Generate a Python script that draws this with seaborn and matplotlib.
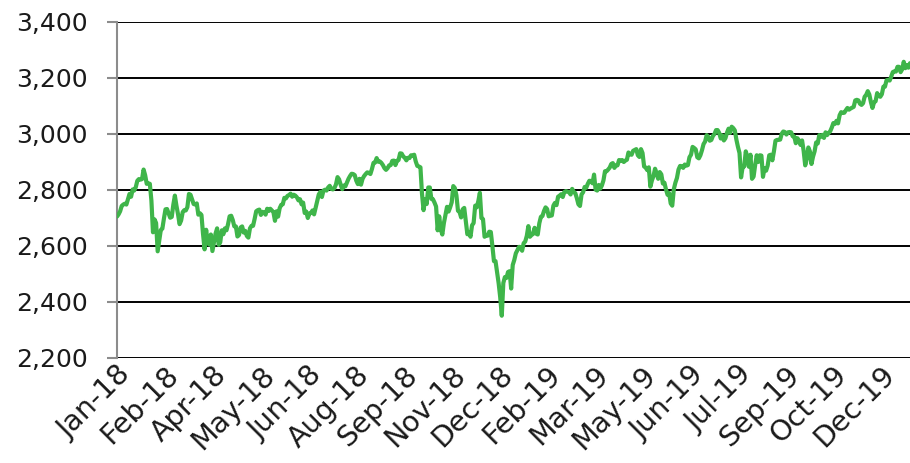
import matplotlib
matplotlib.use("Agg")
import matplotlib.pyplot as plt
import numpy as np
import pandas as pd
import seaborn as sns
from matplotlib.ticker import FuncFormatter

# cierres diarios (indice, puntos)
cierres_2018 = [
    2705, 2713, 2724, 2743, 2748, 2751, 2748, 2767, 2786, 2776, 2802, 2798, 2810, 2833, 2839, 2837, 2839, 2873, 2853, 2822, 2824,
    2822, 2762, 2649, 2695, 2682, 2581, 2620, 2657, 2662, 2698, 2731, 2732, 2716, 2701, 2704, 2747, 2780, 2744, 2714,
    2678, 2691, 2721, 2728, 2727, 2739, 2786, 2783, 2766, 2750, 2748, 2752, 2712, 2717, 2711, 2643, 2588, 2658, 2612, 2605, 2641,
    2582, 2614, 2644, 2663, 2604, 2613, 2656, 2642, 2663, 2656, 2678, 2706, 2708, 2693, 2670, 2670, 2634, 2639, 2666, 2670, 2648,
    2654, 2636, 2630, 2663, 2672, 2672, 2697, 2724, 2728, 2730, 2711, 2722, 2720, 2712, 2733, 2725, 2733, 2727, 2721, 2690, 2724, 2705,
    2735, 2747, 2749, 2772, 2770, 2779, 2782, 2787, 2776, 2783, 2780, 2774, 2763, 2767, 2749, 2755, 2718, 2723, 2700, 2716, 2718,
    2727, 2713, 2737, 2760, 2784, 2793, 2775, 2798, 2801, 2798, 2809, 2815, 2804, 2802, 2807, 2820, 2846, 2838, 2819, 2803, 2816,
    2813, 2827, 2840, 2850, 2858, 2857, 2853, 2833, 2821, 2840, 2819, 2840, 2850, 2857, 2863, 2861, 2857, 2875, 2897, 2898, 2914, 2901, 2902,
    2897, 2889, 2878, 2872, 2878, 2888, 2889, 2904, 2905, 2889, 2904, 2907, 2931, 2930, 2920, 2915, 2906, 2915, 2914,
    2924, 2923, 2926, 2902, 2886, 2884, 2881, 2786, 2728, 2767, 2750, 2809, 2809, 2768, 2767, 2755, 2741, 2656, 2706, 2659, 2641, 2682, 2711,
    2740, 2723, 2738, 2756, 2814, 2807, 2781, 2726, 2722, 2702, 2731, 2736, 2690, 2642, 2650, 2633, 2674, 2682, 2744, 2738, 2760,
    2790, 2700, 2696, 2633, 2638, 2637, 2651, 2650, 2600, 2546, 2546, 2507, 2467, 2417, 2351, 2468, 2489, 2486, 2507,
]
cierres_2019 = [
    2510, 2448, 2532, 2550, 2574, 2585, 2597, 2596, 2583, 2610, 2616, 2636, 2671, 2633, 2639, 2643, 2665, 2644, 2641, 2681, 2704,
    2707, 2725, 2738, 2732, 2706, 2708, 2709, 2744, 2754, 2746, 2776, 2780, 2785, 2775, 2793, 2796, 2794, 2792, 2784,
    2804, 2793, 2789, 2771, 2749, 2743, 2784, 2792, 2811, 2808, 2822, 2833, 2832, 2824, 2855, 2801, 2798, 2818, 2805, 2816, 2834,
    2867, 2867, 2873, 2880, 2893, 2896, 2879, 2888, 2888, 2907, 2905, 2907, 2900, 2905, 2908, 2934, 2927, 2926, 2940, 2943, 2946,
    2924, 2918, 2946, 2932, 2884, 2880, 2871, 2881, 2812, 2834, 2850, 2876, 2860, 2840, 2864, 2856, 2823, 2826, 2802, 2783, 2789, 2752,
    2744, 2803, 2826, 2843, 2873, 2886, 2885, 2879, 2891, 2887, 2889, 2917, 2926, 2954, 2950, 2945, 2917, 2913, 2924, 2942,
    2964, 2973, 2996, 2990, 2976, 2979, 2993, 3000, 3014, 3014, 3004, 2984, 2995, 2977, 2985, 3005, 3019, 3004, 3026, 3021, 3013, 2980,
    2954, 2932, 2845, 2882, 2884, 2938, 2919, 2883, 2926, 2840, 2848, 2889, 2924, 2900, 2924, 2923, 2847, 2878, 2869, 2887, 2924, 2926,
    2906, 2938, 2976, 2979, 2979, 2980, 3001, 3009, 3007, 2998, 3006, 3007, 3006, 2992, 2991, 2967, 2985, 2977, 2961, 2977,
    2940, 2888, 2910, 2952, 2938, 2893, 2919, 2938, 2970, 2966, 2996, 2990, 2997, 2986, 3006, 2996, 3004, 3010, 3023, 3039, 3036, 3047, 3038,
    3067, 3078, 3075, 3076, 3085, 3093, 3087, 3091, 3094, 3097, 3120, 3122, 3120, 3108, 3104, 3110, 3133, 3140, 3153, 3141,
    3114, 3093, 3113, 3117, 3146, 3136, 3133, 3142, 3169, 3169, 3192, 3193, 3191, 3205, 3221, 3224, 3223, 3240, 3240, 3221, 3231,
]
cierres_2020 = [3258, 3235, 3246, 3237, 3253]

etiquetas_x = [
    "Jan-18", "Feb-18", "Apr-18", "May-18", "Jun-18", "Aug-18", "Sep-18", "Nov-18", "Dec-18",
    "Feb-19", "Mar-19", "May-19", "Jun-19", "Jul-19", "Sep-19", "Oct-19", "Dec-19",
]
paso_etiquetas = 30.5
ticks_y = [2200, 2400, 2600, 2800, 3000, 3200, 3400]

VERDE = "#3FB54A"


def main() -> None:
    sns.set_theme(style="white")
    plt.rcParams["font.family"] = ["DejaVu Sans"]

    valores = cierres_2018 + cierres_2019 + cierres_2020
    df = pd.DataFrame({"dia": np.arange(len(valores)), "valor": valores})

    fig = plt.figure(figsize=(9.1, 4.63), dpi=100)
    ax = fig.add_axes([117 / 910, 1 - 358 / 463, 793 / 910, 336 / 463])
    sns.lineplot(data=df, x="dia", y="valor", color=VERDE, linewidth=3, ax=ax, zorder=3)

    ax.set_xlim(0, len(valores) - 1)
    ax.set_ylim(ticks_y[0], ticks_y[-1])
    ax.set_yticks(ticks_y)
    ax.yaxis.set_major_formatter(FuncFormatter(lambda v, _: f"{v:,.0f}"))
    ax.grid(axis="y", color="black", linewidth=1.4)
    ax.grid(axis="x", visible=False)

    for lado in ("top", "right", "bottom"):
        ax.spines[lado].set_visible(False)
    ax.spines["left"].set_color("#8c8c8c")
    ax.spines["left"].set_linewidth(1.5)

    ax.tick_params(axis="y", left=True, length=7, width=1.5, color="#8c8c8c",
                   pad=14, labelsize=18, labelcolor="#1a1a1a")
    ax.set_xticks(np.arange(len(etiquetas_x)) * paso_etiquetas)
    ax.set_xticklabels(etiquetas_x, rotation=45, ha="right", rotation_mode="anchor")
    ax.tick_params(axis="x", bottom=False, length=0, pad=2, labelsize=20.5, labelcolor="#1a1a1a")
    ax.set_xlabel("")
    ax.set_ylabel("")

    fig.savefig("out.png", dpi=100)
    plt.close(fig)


if __name__ == "__main__":
    main()
